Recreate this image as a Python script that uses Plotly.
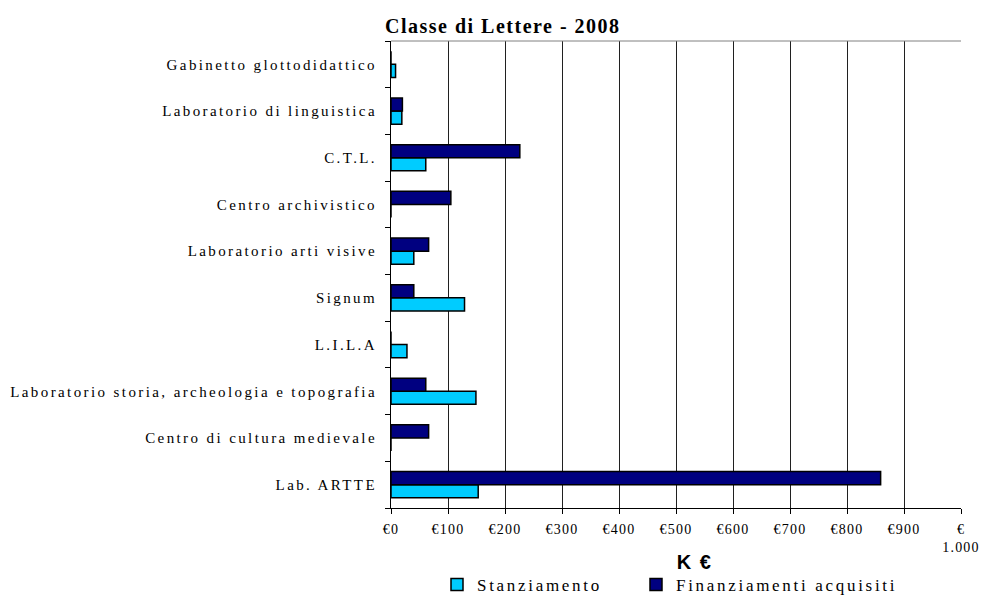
import plotly.graph_objects as go

categories = [
    "Lab. ARTTE",
    "Centro di cultura medievale",
    "Laboratorio storia, archeologia e topografia",
    "L.I.L.A",
    "Signum",
    "Laboratorio arti visive",
    "Centro archivistico",
    "C.T.L.",
    "Laboratorio di linguistica",
    "Gabinetto glottodidattico",
]
stanziamento = [153, 0, 149, 28, 129, 40, 0, 61, 19, 8]
finanziamenti = [859, 66, 61, 0, 40, 66, 105, 226, 20, 0]

tick_vals = [0, 100, 200, 300, 400, 500, 600, 700, 800, 900, 1000]
tick_text = ["€0", "€100", "€200", "€300", "€400", "€500", "€600", "€700",
             "€800", "€900", "€<br>1.000"]

serif = "Liberation Serif, Times New Roman, serif"

# body margin is set to 0 by the post script; plot area: x 391..961, y 41..508
PL, PR, PT, PB = 391, 961, 41, 508
PW, PH = PR - PL, PB - PT


def px(xw):
    return (xw - PL) / PW


def py(yw):
    return (PB - yw) / PH


fig = go.Figure()
fig.add_trace(go.Bar(
    y=categories, x=stanziamento, orientation="h", name="Stanziamento",
    marker=dict(color="#00CCFF", line=dict(color="black", width=1.5)),
))
fig.add_trace(go.Bar(
    y=categories, x=finanziamenti, orientation="h", name="Finanziamenti acquisiti",
    marker=dict(color="#000080", line=dict(color="black", width=1.5)),
))

fig.update_layout(
    width=984, height=595,
    margin=dict(l=PL, r=984 - PR, t=PT, b=595 - PB, autoexpand=False),
    paper_bgcolor="white", plot_bgcolor="white",
    barmode="group", bargap=0.44, bargroupgap=0,
    font=dict(family=serif, size=14, color="black"),
    showlegend=True,
    legend=dict(orientation="h", x=px(437), xanchor="left", y=py(585), yanchor="middle",
                font=dict(family=serif, size=17, color="black"),
                entrywidth=154, entrywidthmode="pixels",
                itemclick=False, bgcolor="rgba(0,0,0,0)"),
    annotations=[
        dict(text="<b>Classe di Lettere - 2008</b>", xref="paper", yref="paper",
             x=px(401), y=1.0, xanchor="left", yanchor="bottom",
             yshift=2, showarrow=False, font=dict(family=serif, size=20, color="black")),
        dict(text="<b>K €</b>", xref="paper", yref="paper",
             x=px(694), y=py(562), xanchor="center", yanchor="middle",
             showarrow=False, font=dict(family="Liberation Sans, Arial, sans-serif",
                                        size=20, color="black")),
    ],
    shapes=[
        dict(type="line", xref="paper", yref="paper", x0=0, x1=1, y0=1, y1=1,
             line=dict(color="#808080", width=1)),
    ],
)

fig.update_xaxes(
    range=[0, 1000], tickvals=tick_vals, ticktext=tick_text,
    showgrid=True, gridcolor="#202020", gridwidth=1,
    showline=True, linecolor="black", linewidth=1,
    ticks="outside", ticklen=5, tickcolor="black",
    ticklabelstandoff=3,
    zeroline=False, fixedrange=True, automargin=False,
    tickfont=dict(family=serif, size=14),
)
fig.update_yaxes(
    showgrid=False, showline=True, linecolor="black", linewidth=1,
    ticks="outside", ticklen=5, tickcolor="black", tickson="boundaries",
    ticklabelstandoff=10, fixedrange=True, automargin=False,
    tickfont=dict(family=serif, size=15),
)

post = """
document.documentElement.style.margin = '0';
document.documentElement.style.overflow = 'hidden';
document.body.style.margin = '0';
document.body.style.padding = '0';
document.body.style.overflow = 'hidden';
var gd = document.getElementById('{plot_id}');
function ls(sel, v) { gd.querySelectorAll(sel).forEach(function(t){ t.style.letterSpacing = v; }); }
ls('.ytick text', '2.4px');
ls('.xtick text', '1.2px');
ls('.legendtext', '2.7px');
gd.querySelectorAll('.legend .scrollbox, .legend').forEach(function(e){ e.removeAttribute('clip-path'); });
gd.querySelectorAll('.legend [clip-path]').forEach(function(e){ e.removeAttribute('clip-path'); });
var ann = gd.querySelectorAll('.annotation-text');
if (ann.length > 0) ann[0].style.letterSpacing = '1.5px';
if (ann.length > 1) ann[1].style.letterSpacing = '1.5px';
"""

fig.write_html("out.html", post_script=post,
               config={"displayModeBar": False, "staticPlot": False})
